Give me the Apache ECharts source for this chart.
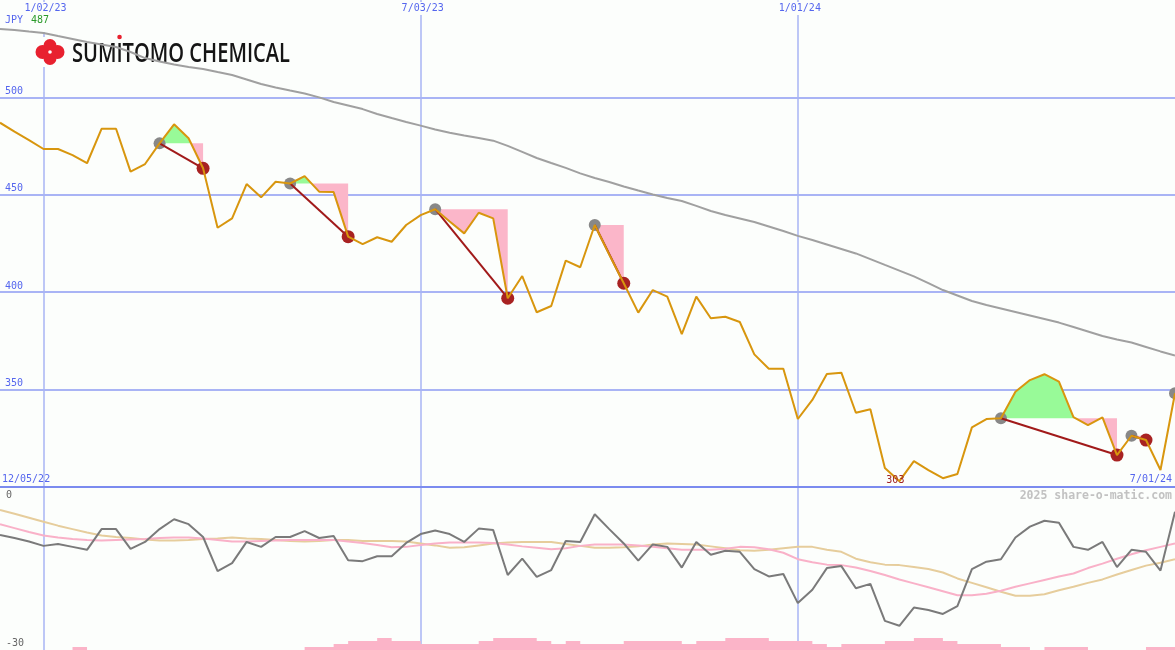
<!DOCTYPE html>
<html><head><meta charset="utf-8">
<script src="https://cdn.jsdelivr.net/npm/echarts@6/dist/echarts.min.js"></script>
<style>html,body{margin:0;padding:0;background:#fcfefc}#c{width:1175px;height:650px}</style>
</head><body><div id="c"></div>
<script>
// ---- labels ----
const startLabel = '12/05/22';
const currency = 'JPY';
const topTickLabels = ['1/02/23', '7/03/23', '1/01/24'];
const endTickLabel = '7/01/24';
const watermark = '2025 share-o-matic.com';
const companyName = 'SUMITOMO CHEMICAL';
const mainTicks = [350, 400, 450, 500];

// ---- weekly close (JPY) ----
const prices = [487, 482.4, 478.1, 473.5, 473.5, 470.4, 466.2, 483.9, 483.9, 461.9,
  465.8, 476.4, 486.2, 479, 463.6, 433.1, 437.9, 455.5, 448.7, 456.7,
  455.8, 459.6, 451.6, 451.4, 428.5, 424.7, 428.2, 425.9, 434.5, 439.6,
  442.6, 436.3, 430.2, 440.8, 437.9, 396.9, 408.3, 389.7, 392.9, 416.2,
  412.8, 434.5, 419.3, 404.6, 389.5, 401.1, 397.7, 378.5, 397.7, 386.6,
  387.4, 384.7, 368.1, 360.7, 360.7, 334.9, 344.7, 358, 358.7, 338.1,
  339.9, 309.8, 303, 313.3, 308.7, 304.5, 306.7, 330.6, 334.9, 335.3,
  348.9, 354.9, 357.9, 354.1, 335.9, 331.8, 335.7, 316.4, 326.3, 324.1,
  308.7, 348.1];

// ---- long moving average ----
const movingAvg = [535.1, 534.6, 533.8, 533.1, 531.5, 530, 528.4, 527.2, 525.9, 523.3,
  520.2, 518.4, 516.9, 515.6, 514.6, 513, 511.5, 509.2, 506.9, 505.1,
  503.5, 502, 500, 497.6, 495.8, 494, 491.5, 489.4, 487.4, 485.5,
  483.5, 481.9, 480.4, 479.2, 477.8, 475.1, 472, 468.9, 466.3, 463.8,
  461, 458.6, 456.6, 454.3, 452.2, 450.2, 448.4, 446.8, 444.3, 441.7,
  439.6, 437.8, 436, 433.7, 431.4, 428.9, 426.8, 424.5, 422.2, 419.9,
  417, 414, 411.1, 408.1, 404.7, 401.1, 398.3, 395.5, 393.4, 391.6,
  389.8, 388, 386.2, 384.4, 382.1, 379.8, 377.5, 375.7, 374.2, 371.9,
  369.6, 367.5];

// ---- lower panel oscillator ----
const oscMain = [-7.1, -7.7, -8.4, -9.3, -8.9, -9.5, -10.1, -5.9, -5.9, -9.9,
  -8.5, -5.9, -3.9, -4.9, -7.5, -14.4, -12.8, -8.5, -9.5, -7.5,
  -7.5, -6.3, -7.7, -7.3, -12.2, -12.4, -11.4, -11.4, -8.7, -6.9,
  -6.2, -6.9, -8.5, -5.8, -6.1, -15.2, -11.9, -15.6, -14.2, -8.3,
  -8.5, -2.9, -5.9, -8.8, -12.3, -9.0, -9.5, -13.7, -8.5, -11.1,
  -10.3, -10.5, -14.0, -15.5, -15.0, -20.9, -18.2, -13.8, -13.4, -17.9,
  -17.0, -24.5, -25.5, -21.8, -22.3, -23.1, -21.5, -14.0, -12.5, -12.0,
  -7.6, -5.4, -4.2, -4.6, -9.5, -10.1, -8.5, -13.6, -10.1, -10.5,
  -14.3, -2.4];
const oscPink = [-4.9, -5.7, -6.5, -7.2, -7.6, -7.9, -8.1, -8.2, -8.1, -8.0,
  -7.9, -7.7, -7.6, -7.6, -7.8, -8.1, -8.4, -8.4, -8.3, -8.2,
  -8.1, -8.1, -8.1, -8.1, -8.4, -8.7, -9.1, -9.6, -9.5, -9.1,
  -8.8, -8.6, -8.6, -8.6, -8.7, -9.0, -9.4, -9.7, -10.0, -9.8,
  -9.3, -9.0, -9.0, -9.0, -9.2, -9.5, -9.8, -10.1, -10.1, -10.1,
  -9.9, -9.5, -9.6, -10.0, -10.7, -12.0, -12.6, -13.1, -13.2, -13.7,
  -14.4, -15.2, -16.1, -16.9, -17.7, -18.5, -19.3, -19.3, -19.0, -18.4,
  -17.6, -16.9, -16.2, -15.5, -14.9, -13.8, -12.9, -11.9, -11.0, -10.2,
  -9.5, -8.8];
const oscTan = [-2.0, -2.8, -3.6, -4.4, -5.2, -5.9, -6.6, -7.2, -7.5, -7.7,
  -8.0, -8.2, -8.2, -8.1, -7.9, -7.8, -7.6, -7.8, -7.9, -8.1,
  -8.3, -8.4, -8.3, -8.1, -8.1, -8.3, -8.3, -8.3, -8.4, -8.8,
  -9.2, -9.7, -9.6, -9.2, -8.8, -8.6, -8.5, -8.5, -8.5, -8.9,
  -9.3, -9.7, -9.7, -9.6, -9.4, -9.0, -8.8, -8.9, -9.0, -9.4,
  -9.8, -10.2, -10.3, -10.1, -9.8, -9.5, -9.5, -10.1, -10.5, -11.9,
  -12.6, -13.1, -13.2, -13.6, -14.0, -14.7, -15.9, -16.8, -17.7, -18.6,
  -19.4, -19.4, -19.1, -18.3, -17.6, -16.8, -16.1, -15.1, -14.2, -13.3,
  -12.7, -12.0];
const volumeLevel = [0, 0, 0, 0, 0, 1, 0, 0, 0, 0,
  0, 0, 0, 0, 0, 0, 0, 0, 0, 0,
  0, 1, 1, 2, 3, 3, 4, 3, 3, 2,
  2, 2, 2, 3, 4, 4, 4, 3, 2, 3,
  2, 2, 2, 3, 3, 3, 3, 2, 3, 3,
  4, 4, 4, 3, 3, 3, 2, 1, 2, 2,
  2, 3, 3, 4, 4, 3, 2, 2, 2, 1,
  1, 0, 1, 1, 1, 0, 0, 0, 0, 1,
  1, 1];

// ---- trade signals (week indices) ----
const signalEntries = [11, 20, 30, 41, 69, 78, 81];
const signalExits = [14, 24, 35, 43, 77, 79, 81];

// weekly category dates (Mondays)
const categories = [];
for (let i = 0; i < prices.length; i++) {
  const d = new Date(Date.UTC(2022, 11, 12 + 7 * i));
  categories.push((d.getUTCMonth() + 1) + '/' + String(d.getUTCDate()).padStart(2, '0') + '/' + String(d.getUTCFullYear()).slice(2));
}
const vIdx = topTickLabels.map(l => categories.indexOf(l));
const signalData = signalEntries.map((e, k) => [e, prices[e], signalExits[k]]);

const BG = '#fcfefc', GRID = '#a9b4f5', AXIS = '#7b8bef', BLUE = '#5566ee';
const mono = 'DejaVu Sans Mono';

// logo text sizing
const logoFont = '600 27px "Open Sans"';
const mctx = document.createElement('canvas').getContext('2d');
mctx.font = logoFont;
const logoW = mctx.measureText(companyName).width || 290;
const logoScale = 218 / logoW;
const dotX = 72 + (mctx.measureText('SUM').width + mctx.measureText('I').width / 2) * logoScale;

function renderSignal(params, api) {
  const e = api.value(0), L = api.value(1), x = api.value(2);
  const Ly = api.coord([e, L])[1];
  const pts = [];
  for (let k = e; k <= x; k++) pts.push(api.coord([k, prices[k]]));
  const children = [];
  const last = pts[pts.length - 1];
  if (x > e) {
    const up = [[pts[0][0], Ly]], dn = [[pts[0][0], Ly]];
    for (let k = 0; k < pts.length; k++) {
      const p = pts[k];
      up.push([p[0], Math.min(p[1], Ly)]);
      dn.push([p[0], Math.max(p[1], Ly)]);
      if (k < pts.length - 1) {
        const q = pts[k + 1];
        if ((p[1] - Ly) * (q[1] - Ly) < 0) {
          const t = (Ly - p[1]) / (q[1] - p[1]);
          const cx = p[0] + t * (q[0] - p[0]);
          up.push([cx, Ly]); dn.push([cx, Ly]);
        }
      }
    }
    up.push([last[0], Ly]); dn.push([last[0], Ly]);
    children.push({ type: 'polygon', shape: { points: up }, style: { fill: '#98fa98' } });
    children.push({ type: 'polygon', shape: { points: dn }, style: { fill: '#fbb6c9' } });
  }
  children.push({ type: 'circle', shape: { cx: pts[0][0], cy: pts[0][1], r: 6 }, style: { fill: '#888888' } });
  if (x > e) {
    children.push({ type: 'line', shape: { x1: pts[0][0], y1: pts[0][1], x2: last[0], y2: last[1] }, style: { stroke: '#a11a1a', lineWidth: 2 } });
    children.push({ type: 'circle', shape: { cx: last[0], cy: last[1], r: 6.5 }, style: { fill: '#a82222' } });
  }
  return { type: 'group', children };
}

const chart = echarts.init(document.getElementById('c'), null, { renderer: 'canvas' });
const option = {
  animation: false,
  backgroundColor: BG,
  grid: [
    { left: 0, right: 0, top: 0, height: 487, containLabel: false, outerBoundsMode: 'none' },
    { left: 0, right: 0, top: 500, height: 148, containLabel: false, outerBoundsMode: 'none' },
    { left: 0, right: 0, top: 488, height: 162, containLabel: false, outerBoundsMode: 'none' }
  ],
  xAxis: [
    { gridIndex: 0, type: 'category', data: categories, boundaryGap: false, position: 'top',
      axisLine: { show: false }, axisTick: { show: false },
      axisLabel: { show: true, inside: true, margin: 2, interval: (i) => vIdx.includes(i), color: BLUE,
        fontFamily: mono, fontSize: 10, backgroundColor: BG, padding: [1, 1, 2, 5] },
      splitLine: { show: true, interval: (i) => vIdx.includes(i), lineStyle: { color: GRID, width: 1.5 } } },
    { gridIndex: 0, type: 'category', data: categories, boundaryGap: false, position: 'bottom',
      axisLine: { show: true, onZero: false, lineStyle: { color: AXIS, width: 2 } }, axisTick: { show: false },
      axisLabel: { show: true, inside: true, margin: 3, interval: (i) => categories[i] === endTickLabel, align: 'right',
        color: BLUE, fontFamily: mono, fontSize: 10, padding: [0, 3, 0, 0] },
      splitLine: { show: false } },
    { gridIndex: 1, type: 'category', data: categories, boundaryGap: false, show: false },
    { gridIndex: 2, type: 'category', data: categories, boundaryGap: false,
      axisLine: { show: false }, axisTick: { show: false }, axisLabel: { show: false },
      splitLine: { show: true, interval: (i) => vIdx.includes(i), lineStyle: { color: GRID, width: 1.5 } } }
  ],
  yAxis: [
    { gridIndex: 0, type: 'value', min: 300, max: 550, interval: 50, position: 'left',
      axisLine: { show: false }, axisTick: { show: false },
      axisLabel: { inside: true, margin: 5, verticalAlign: 'bottom', align: 'left', color: BLUE, fontFamily: mono,
        fontSize: 10, padding: [0, 0, 1, 0], formatter: (v) => mainTicks.includes(v) ? String(v) : '' },
      splitLine: { show: true, showMinLine: false, showMaxLine: false, lineStyle: { color: GRID, width: 2 } } },
    { gridIndex: 1, type: 'value', min: -30, max: 0, interval: 30,
      axisLine: { show: false }, axisTick: { show: false }, splitLine: { show: false },
      axisLabel: { inside: true, margin: 6, verticalAlign: 'bottom', align: 'left', color: '#666',
        fontFamily: mono, fontSize: 10, padding: [0, 0, 0, 0] } },
    { gridIndex: 2, type: 'value', min: 0, max: 54, show: false }
  ],
  graphic: [
    { type: 'rect', z: 1, shape: { x: 33, y: 37, width: 261, height: 30 }, style: { fill: BG } },
    { type: 'rect', z: 1, shape: { x: 2, y: 13, width: 52, height: 19 }, style: { fill: BG } },
    { type: 'circle', z: 1, shape: { cx: 42.5, cy: 52, r: 7 }, style: { fill: '#e8212f' } },
    { type: 'circle', z: 1, shape: { cx: 57.5, cy: 52, r: 7 }, style: { fill: '#e8212f' } },
    { type: 'circle', z: 1, shape: { cx: 50, cy: 45.5, r: 6.5 }, style: { fill: '#e8212f' } },
    { type: 'circle', z: 1, shape: { cx: 50, cy: 58.5, r: 6.5 }, style: { fill: '#e8212f' } },
    { type: 'rect', z: 1, shape: { x: 44, y: 46, width: 12, height: 12 }, style: { fill: '#e8212f' } },
    { type: 'circle', z: 1, shape: { cx: 50, cy: 52, r: 1.8 }, style: { fill: '#ffffff' } },
    { type: 'text', z: 1, x: 72, y: 54, scaleX: logoScale,
      style: { text: companyName, font: logoFont, fill: '#151515', verticalAlign: 'middle', align: 'left' } },
    { type: 'circle', z: 1, shape: { cx: dotX, cy: 37, r: 2.3 }, style: { fill: '#e8212f' } },
    { type: 'text', z: 10, x: 5, y: 15, style: { text: currency, font: '10px "DejaVu Sans Mono"', fill: BLUE } },
    { type: 'text', z: 10, x: 31, y: 15, style: { text: String(Math.round(prices[0])), font: '10px "DejaVu Sans Mono"', fill: '#2a9a2a' } },
    { type: 'text', z: 10, x: 2, y: 474, style: { text: startLabel, font: '10px "DejaVu Sans Mono"', fill: BLUE } },
    { type: 'text', z: 10, x: 1172, y: 490, style: { text: watermark, font: 'bold 11.5px "DejaVu Sans Mono"', fill: '#c2c2c2', align: 'right' } }
  ],
  series: [
    { type: 'custom', xAxisIndex: 0, yAxisIndex: 0, z: 1, data: signalData, encode: { x: 0, y: 1 },
      renderItem: renderSignal, silent: true, clip: false },
    { type: 'line', xAxisIndex: 0, yAxisIndex: 0, data: movingAvg, symbol: 'none', silent: true, z: 2,
      lineStyle: { color: '#a0a0a0', width: 2 } },
    { type: 'line', xAxisIndex: 0, yAxisIndex: 0, data: prices, symbol: 'none', silent: true, z: 3,
      lineStyle: { color: '#d8960e', width: 2 },
      markPoint: { symbol: 'circle', symbolSize: 0, silent: true, data: [{ type: 'min' }],
        label: { show: true, position: 'inside', formatter: (p) => String(Math.round(p.value)), color: '#a02020',
          fontFamily: mono, fontSize: 10, offset: [-4, -1] } } },
    { type: 'line', xAxisIndex: 3, yAxisIndex: 2, data: volumeLevel, step: 'end', symbol: 'none', silent: true, z: 1,
      lineStyle: { width: 0 }, areaStyle: { color: '#fbb4c8', opacity: 1 } },
    { type: 'line', xAxisIndex: 2, yAxisIndex: 1, data: oscTan, symbol: 'none', silent: true, z: 2,
      lineStyle: { color: '#e6cd9c', width: 2 } },
    { type: 'line', xAxisIndex: 2, yAxisIndex: 1, data: oscPink, symbol: 'none', silent: true, z: 2,
      lineStyle: { color: '#f9b1c8', width: 2 } },
    { type: 'line', xAxisIndex: 2, yAxisIndex: 1, data: oscMain, symbol: 'none', silent: true, z: 3,
      lineStyle: { color: '#7a7a7a', width: 2 } }
  ]
};
chart.setOption(option);
</script>
</body></html>
